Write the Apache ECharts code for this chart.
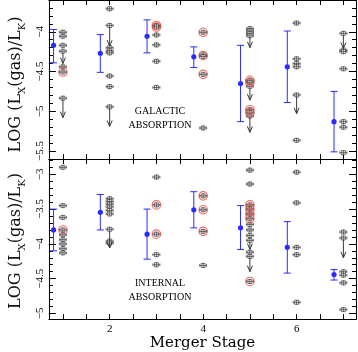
<!DOCTYPE html>
<html>
<head>
<meta charset="utf-8">
<script src="https://cdn.jsdelivr.net/npm/echarts@6/dist/echarts.min.js"></script>
<style>
html, body { margin: 0; padding: 0; background: #fff; }
#chart { width: 358px; height: 352px; }
</style>
</head>
<body>
<div id="chart"></div>
<script>
// tick positions and labels
var xTickVals = [1, 1.5, 2, 2.5, 3, 3.5, 4, 4.5, 5, 5.5, 6, 6.5, 7];
var xLabelVals = [2, 4, 6];
var galTickVals = [-5.5, -5, -4.5, -4];
var intTickVals = [-5, -4.5, -4, -3.5, -3];

// galactic absorption panel: individual galaxies [stage, log Lx(gas)/LK]
var galPoints = [
    [1, -4.006], [1, -4.056], [1, -4.17], [1, -4.44], [1, -4.506],
    [2, -3.71], [2, -4.20], [2, -4.24], [2, -4.265], [2, -4.556], [2, -4.69],
    [3, -3.92], [3, -3.94], [3, -4.04], [3, -4.165], [3, -4.37], [3, -4.70],
    [4, -4.006], [4, -4.29], [4, -4.31], [4, -4.535], [4, -5.21],
    [5, -3.96], [5, -3.99], [5, -4.02], [5, -4.61], [5, -4.635], [5, -4.98], [5, -5.02],
    [6, -3.89], [6, -4.34], [6, -4.40], [6, -4.44], [6, -5.365],
    [7, -4.23], [7, -4.25], [7, -4.465], [7, -5.13], [7, -5.20], [7, -5.52]
];
// upper limits [stage, value, arrow tip]
var galLimits = [
    [1, -4.244, -4.40], [1, -4.835, -5.08],
    [2, -3.92, -4.18], [2, -4.944, -5.19],
    [5, -4.05, -4.20], [5, -4.685, -4.86], [5, -5.06, -5.265],
    [6, -4.794, -5.03],
    [7, -4.02, -4.21]
];
// circled galaxies
var galCircled = [
    [1, -4.506], [3, -3.92], [3, -3.94], [4, -4.006], [4, -4.30], [4, -4.535],
    [5, -4.61], [5, -4.635], [5, -4.98], [5, -5.02]
];
// stage means with scatter
var galMeanStage = [0.8, 1.8, 2.8, 3.8, 4.8, 5.8, 6.8];
var galMean = [-4.17, -4.27, -4.056, -4.315, -4.65, -4.44, -5.13];
var galMeanLow = [-4.39, -4.51, -4.265, -4.45, -5.13, -4.89, -5.51];
var galMeanHigh = [-3.97, -4.035, -3.85, -4.19, -4.17, -3.99, -4.75];

// internal absorption panel
var intPoints = [
    [1, -2.90], [1, -3.45], [1, -3.62], [1, -3.80], [1, -3.87], [1, -3.94], [1, -4.00], [1, -4.07], [1, -4.13],
    [2, -3.35], [2, -3.39], [2, -3.43], [2, -3.47], [2, -3.52], [2, -3.57], [2, -3.96], [2, -3.99],
    [3, -3.04], [3, -3.44], [3, -3.86], [3, -4.155], [3, -4.30],
    [4, -3.31], [4, -3.51], [4, -3.82], [4, -4.31],
    [5, -2.94], [5, -3.14], [5, -3.44], [5, -3.50], [5, -3.57], [5, -3.64], [5, -3.72], [5, -3.80], [5, -3.88], [5, -4.12], [5, -4.54],
    [6, -2.97], [6, -3.41], [6, -4.05], [6, -4.155], [6, -4.84],
    [7, -3.83], [7, -4.40], [7, -4.45], [7, -4.56], [7, -4.945]
];
var intLimits = [
    [2, -3.79, -4.06],
    [5, -3.95, -4.08], [5, -4.18, -4.40],
    [7, -3.915, -4.20]
];
var intCircled = [
    [1, -3.80], [3, -3.44], [3, -3.86], [4, -3.31], [4, -3.51], [4, -3.82],
    [5, -3.44], [5, -3.50], [5, -3.57], [5, -3.64], [5, -4.54]
];
var intMeanStage = [0.8, 1.8, 2.8, 3.8, 4.8, 5.8, 6.8];
var intMean = [-3.80, -3.546, -3.86, -3.51, -3.77, -4.05, -4.44];
var intMeanLow = [-4.10, -3.80, -4.22, -3.77, -4.08, -4.42, -4.52];
var intMeanHigh = [-3.50, -3.29, -3.50, -3.25, -3.45, -3.68, -4.37];

var SERIF = 'DejaVu Serif';
var LSERIF = 'Liberation Serif';
var INK = '#3a3a3a';
var BLUE = '#2b2bff';
var RED = '#e8453c';

function minorTicks(lo, hi) {
    var out = [];
    for (var i = Math.round(lo * 10); i <= Math.round(hi * 10); i++) {
        out.push(i / 10);
    }
    return out;
}

function symbolParts(x, y) {
    var st = { stroke: INK, lineWidth: 0.7, fill: null };
    return [
        { type: 'line', shape: { x1: x - 3.5, y1: y, x2: x + 3.5, y2: y }, style: st },
        { type: 'line', shape: { x1: x - 3.5, y1: y - 1.3, x2: x - 3.5, y2: y + 1.3 }, style: st },
        { type: 'line', shape: { x1: x + 3.5, y1: y - 1.3, x2: x + 3.5, y2: y + 1.3 }, style: st },
        { type: 'rect', shape: { x: x - 2, y: y - 2, width: 4, height: 4 }, style: { stroke: INK, fill: '#fff', lineWidth: 0.7 } },
        { type: 'line', shape: { x1: x - 2, y1: y, x2: x + 2, y2: y }, style: st },
        { type: 'line', shape: { x1: x, y1: y - 2.5, x2: x, y2: y + 2.5 }, style: st }
    ];
}

function drawPoint(params, api) {
    var p = api.coord([api.value(0), api.value(1)]);
    return { type: 'group', children: symbolParts(p[0], p[1]) };
}

function drawLimit(params, api) {
    var p = api.coord([api.value(0), api.value(1)]);
    var q = api.coord([api.value(0), api.value(2)]);
    var st = { stroke: INK, lineWidth: 1, fill: null };
    var kids = [
        { type: 'line', shape: { x1: p[0], y1: p[1], x2: q[0], y2: q[1] }, style: st },
        { type: 'polyline', shape: { points: [[q[0] - 2.5, q[1] - 6], [q[0], q[1]], [q[0] + 2.5, q[1] - 6]] }, style: st }
    ];
    return { type: 'group', children: kids.concat(symbolParts(p[0], p[1])) };
}

function drawMean(params, api) {
    var x = api.value(0);
    var c = api.coord([x, api.value(1)]);
    var lo = api.coord([x, api.value(2)]);
    var hi = api.coord([x, api.value(3)]);
    var st = { stroke: BLUE, lineWidth: 1, fill: null };
    return {
        type: 'group',
        children: [
            { type: 'line', shape: { x1: c[0], y1: lo[1], x2: c[0], y2: hi[1] }, style: st },
            { type: 'line', shape: { x1: c[0] - 3.5, y1: lo[1], x2: c[0] + 3.5, y2: lo[1] }, style: st },
            { type: 'line', shape: { x1: c[0] - 3.5, y1: hi[1], x2: c[0] + 3.5, y2: hi[1] }, style: st },
            { type: 'circle', shape: { cx: c[0], cy: c[1], r: 2.6 }, style: { fill: BLUE } }
        ]
    };
}

function xAx(grid, pos, labels) {
    return {
        type: 'value', gridIndex: grid, position: pos, min: 0.7, max: 7.27,
        axisLine: { show: true, onZero: false, lineStyle: { color: '#000', width: 1 } },
        axisTick: { show: true, inside: true, length: 5, customValues: xTickVals, lineStyle: { color: '#000' } },
        axisLabel: {
            show: labels, customValues: xLabelVals, color: '#000', fontFamily: LSERIF, fontSize: 11, margin: 5
        },
        splitLine: { show: false },
        name: labels ? 'Merger Stage' : '',
        nameLocation: 'middle', nameGap: 17,
        nameTextStyle: { fontFamily: SERIF, fontSize: 15, color: '#000' }
    };
}

var yTitle = '{m|LOG (L}{s|X}{m|(gas)/L}{s|K}{m|)}';

function yAx(grid, pos, min, max, ticks, len, major, shift) {
    var ax = {
        type: 'value', gridIndex: grid, position: pos, min: min, max: max,
        axisLine: { show: true, onZero: false, lineStyle: { color: '#000', width: 1 } },
        axisTick: { show: true, inside: true, length: len, customValues: ticks, lineStyle: { color: '#000' } },
        axisLabel: { show: false },
        splitLine: { show: false }
    };
    if (major && pos === 'left') {
        ax.axisLabel = {
            show: true, customValues: ticks, rotate: 90, margin: 3, color: '#000',
            fontFamily: LSERIF, fontSize: 11,
            formatter: function (v) { return String(v).replace('-', '\u2212'); }
        };
        ax.name = yTitle;
        ax.nameLocation = 'middle';
        ax.nameRotate = 90;
        ax.nameGap = 15;
        ax.nameTextStyle = {
            color: '#000',
            padding: [0, shift, 0, 0],
            rich: {
                m: { fontFamily: SERIF, fontSize: 16, lineHeight: 22, color: '#111' },
                s: { fontFamily: SERIF, fontSize: 10, lineHeight: 12, verticalAlign: 'bottom', color: '#111' }
            }
        };
    }
    return ax;
}

var galMin = -5.6, galMax = -3.6;
var intMin = -5.08, intMax = -2.78;

function panelSeries(xi, yi, points, limits, circled, stage, mean, low, high) {
    return [
        { type: 'custom', xAxisIndex: xi, yAxisIndex: yi, renderItem: drawPoint, data: points, z: 2 },
        { type: 'custom', xAxisIndex: xi, yAxisIndex: yi, renderItem: drawLimit, data: limits, z: 2 },
        {
            type: 'scatter', xAxisIndex: xi, yAxisIndex: yi, data: circled, symbol: 'circle', symbolSize: 8.5,
            itemStyle: { color: 'rgba(0,0,0,0)', borderColor: RED, borderWidth: 1.1 }, z: 3, silent: true
        },
        {
            type: 'custom', xAxisIndex: xi, yAxisIndex: yi, renderItem: drawMean, z: 4,
            data: stage.map(function (s, i) { return [s, mean[i], low[i], high[i]]; })
        }
    ];
}

function label(text, x, y) {
    return {
        type: 'text',
        style: { text: text, x: x, y: y, align: 'center', verticalAlign: 'middle', font: '10px "Liberation Serif"', fill: '#000' }
    };
}

var chart = echarts.init(document.getElementById('chart'), null, { renderer: 'canvas' });
chart.setOption({
    animation: false,
    backgroundColor: '#fff',
    grid: [
        { left: 40, right: 2, top: 0, height: 159 },
        { left: 40, right: 2, top: 159, height: 160 }
    ],
    xAxis: [
        xAx(0, 'bottom', false), xAx(0, 'top', false),
        xAx(1, 'bottom', true), xAx(1, 'top', false)
    ],
    yAxis: [
        yAx(0, 'left', galMin, galMax, galTickVals, 7, true, 10),
        yAx(0, 'left', galMin, galMax, minorTicks(galMin, galMax), 4, false),
        yAx(0, 'right', galMin, galMax, galTickVals, 7, true),
        yAx(0, 'right', galMin, galMax, minorTicks(galMin, galMax), 4, false),
        yAx(1, 'left', intMin, intMax, intTickVals, 7, true, 4),
        yAx(1, 'left', intMin, intMax, minorTicks(-5.0, -2.8), 4, false),
        yAx(1, 'right', intMin, intMax, intTickVals, 7, true),
        yAx(1, 'right', intMin, intMax, minorTicks(-5.0, -2.8), 4, false)
    ],
    graphic: [
        label('GALACTIC', 160, 111),
        label('ABSORPTION', 160, 125),
        label('INTERNAL', 160, 283),
        label('ABSORPTION', 160, 297)
    ],
    series: []
        .concat(panelSeries(0, 0, galPoints, galLimits, galCircled, galMeanStage, galMean, galMeanLow, galMeanHigh))
        .concat(panelSeries(2, 4, intPoints, intLimits, intCircled, intMeanStage, intMean, intMeanLow, intMeanHigh))
});
</script>
</body>
</html>
